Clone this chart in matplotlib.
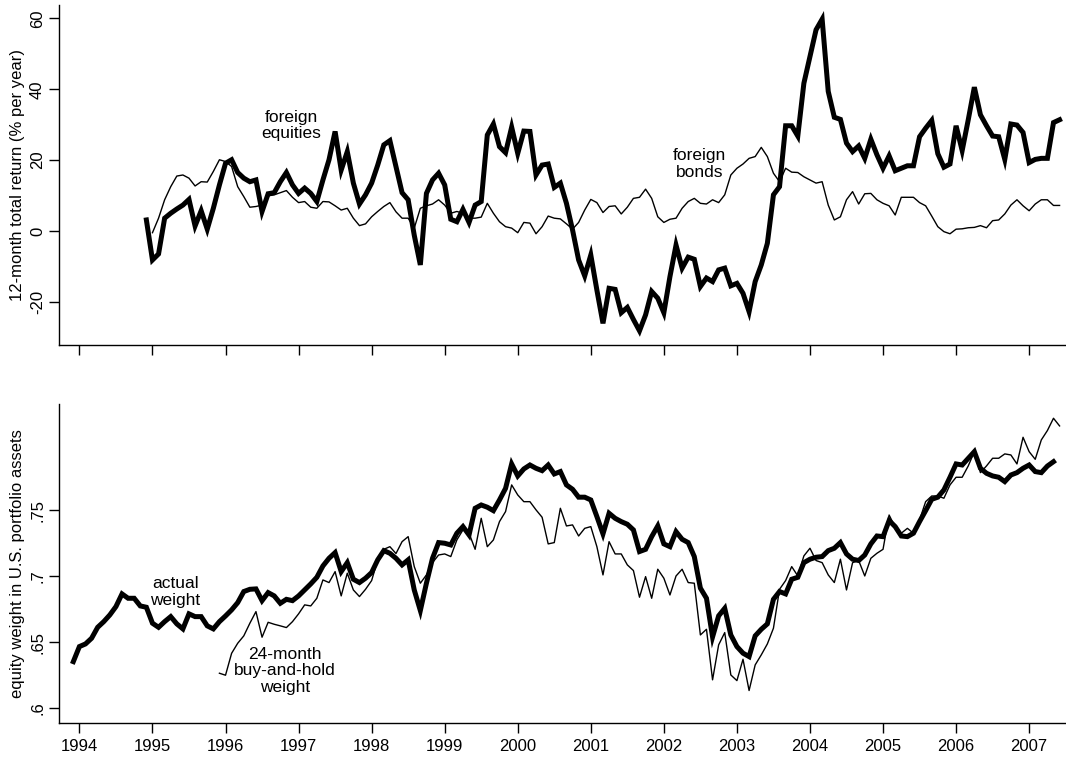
import numpy as np
import matplotlib
matplotlib.use("Agg")
import matplotlib.pyplot as plt

plt.rcParams['font.family'] = ['Liberation Sans', 'DejaVu Sans']

# monthly series; first value of each list is its start month
equity_start = (1994, 12)
equity_ret = [
    3.1,
    -8.2, -6.5, 3.6, 5.0, 6.2, 7.3, 8.9, 1.4, 5.7, 0.5, 6.4, 13.0,          # 1995
    19.1, 20.1, 16.5, 14.9, 13.9, 14.4, 5.5, 10.5, 10.8, 13.9, 16.5, 13.0,  # 1996
    10.6, 12.1, 10.6, 8.3, 14.4, 20.1, 28.1, 17.2, 22.4, 13.5, 7.6, 10.2,   # 1997
    13.5, 18.6, 24.3, 25.5, 18.2, 10.8, 8.8, -1.2, -9.6, 10.6, 14.4, 16.3,  # 1998
    13.0, 3.3, 2.6, 6.1, 2.4, 7.3, 8.3, 27.1, 30.2, 23.8, 22.1, 29.3,       # 1999
    21.9, 28.2, 28.1, 15.8, 18.6, 18.9, 12.3, 13.5, 7.8, 0.3, -8.2, -12.7,  # 2000
    -6.8, -16.7, -26.1, -16.2, -16.5, -23.1, -21.6, -25.0, -28.2, -23.7, -17.1, -19.0,  # 2001
    -23.1, -12.9, -4.0, -10.5, -7.4, -8.0, -15.7, -13.3, -14.3, -11.0, -10.5, -15.5,  # 2002
    -14.8, -17.6, -22.8, -14.3, -9.6, -3.5, 10.2, 12.5, 29.7, 29.7, 26.8, 41.7,  # 2003
    49.2, 56.8, 59.8, 39.4, 32.1, 31.5, 24.8, 22.4, 24.0, 20.5, 25.9, 21.5,  # 2004
    17.7, 21.2, 17.0, 17.7, 18.4, 18.4, 26.6, 29.0, 31.2, 21.8, 18.0, 18.9,  # 2005
    29.7, 22.7, 31.4, 40.6, 32.8, 29.7, 26.8, 26.6, 20.2, 30.2, 29.9, 27.8,  # 2006
    19.3, 20.2, 20.5, 20.5, 30.6, 31.4,                                      # 2007
]

bond_start = (1995, 1)
bond_ret = [
    -0.5, 3.6, 8.8, 12.5, 15.5, 15.8, 14.9, 12.7, 13.9, 13.8, 16.8, 20.1,   # 1995
    19.6, 18.2, 12.5, 9.7, 6.7, 6.9, 7.3, 9.9, 10.2, 10.8, 11.4, 9.5,       # 1996
    8.0, 8.3, 6.7, 6.4, 8.3, 8.2, 7.1, 5.9, 6.4, 3.6, 1.5, 2.0,             # 1997
    4.0, 5.5, 6.9, 8.0, 5.4, 3.6, 3.6, 0.8, 6.4, 7.1, 7.6, 8.8,             # 1998
    7.3, 5.0, 5.5, 5.0, 3.6, 3.6, 3.9, 7.8, 5.0, 2.6, 1.2, 0.8,             # 1999
    -0.5, 2.4, 2.2, -0.8, 1.2, 4.2, 3.6, 3.4, 2.0, 0.5, 2.4, 5.9,           # 2000
    8.9, 8.0, 5.2, 6.9, 7.1, 4.8, 6.7, 9.2, 9.5, 11.8, 9.2, 4.0,            # 2001
    2.4, 3.3, 3.6, 6.4, 8.3, 9.2, 7.8, 7.6, 8.8, 8.0, 10.2, 15.8,           # 2002
    17.7, 18.9, 20.5, 21.0, 23.6, 21.0, 16.3, 13.9, 17.7, 16.6, 16.5, 15.3,  # 2003
    14.4, 13.5, 13.9, 7.3, 3.1, 4.0, 8.8, 11.1, 7.6, 10.5, 10.6, 8.8,       # 2004
    7.8, 7.1, 4.5, 9.5, 9.5, 9.5, 8.0, 7.1, 4.2, 1.2, -0.2, -0.8,           # 2005
    0.5, 0.6, 0.9, 1.0, 1.5, 0.9, 2.9, 3.1, 4.8, 7.3, 8.8, 7.1,             # 2006
    5.7, 7.6, 8.8, 8.8, 7.2, 7.2,                                           # 2007
]

actual_start = (1993, 12)
actual_wt = [
    0.6353,
    0.6467, 0.6487, 0.6530, 0.6613, 0.6656, 0.6707, 0.6770, 0.6866, 0.6833, 0.6833, 0.6775, 0.6765,  # 1994
    0.6644, 0.6613, 0.6656, 0.6694, 0.6639, 0.6601, 0.6715, 0.6694, 0.6694, 0.6624, 0.6601, 0.6656,  # 1995
    0.6699, 0.6745, 0.6800, 0.6884, 0.6901, 0.6904, 0.6815, 0.6876, 0.6851, 0.6795, 0.6825, 0.6815,  # 1996
    0.6851, 0.6896, 0.6942, 0.6992, 0.7078, 0.7136, 0.7179, 0.7035, 0.7103, 0.6977, 0.6952, 0.6985,  # 1997
    0.7028, 0.7124, 0.7194, 0.7174, 0.7136, 0.7086, 0.7124, 0.6896, 0.6740, 0.6947, 0.7136, 0.7255,  # 1998
    0.7250, 0.7237, 0.7326, 0.7376, 0.7313, 0.7515, 0.7540, 0.7523, 0.7497, 0.7578, 0.7666, 0.7851,  # 1999
    0.7760, 0.7813, 0.7843, 0.7818, 0.7800, 0.7843, 0.7775, 0.7793, 0.7692, 0.7659, 0.7599, 0.7599,  # 2000
    0.7578, 0.7452, 0.7321, 0.7477, 0.7439, 0.7414, 0.7394, 0.7351, 0.7187, 0.7204, 0.7300, 0.7381,  # 2001
    0.7245, 0.7224, 0.7338, 0.7280, 0.7255, 0.7149, 0.6910, 0.6833, 0.6540, 0.6700, 0.6757, 0.6555,  # 2002
    0.6467, 0.6417, 0.6391, 0.6548, 0.6598, 0.6639, 0.6825, 0.6884, 0.6866, 0.6977, 0.6992, 0.7103,  # 2003
    0.7129, 0.7144, 0.7149, 0.7194, 0.7212, 0.7255, 0.7169, 0.7129, 0.7119, 0.7161, 0.7245, 0.7305,  # 2004
    0.7300, 0.7422, 0.7376, 0.7305, 0.7300, 0.7326, 0.7414, 0.7497, 0.7583, 0.7599, 0.7654, 0.7750,  # 2005
    0.7851, 0.7843, 0.7894, 0.7944, 0.7818, 0.7780, 0.7760, 0.7750, 0.7717, 0.7767, 0.7785, 0.7818,  # 2006
    0.7843, 0.7793, 0.7785, 0.7835, 0.7868,                                                          # 2007
]

bh_start = (1995, 12)
buyhold_wt = [
    0.6265,
    0.6250, 0.6416, 0.6492, 0.6548, 0.6644, 0.6732, 0.6538, 0.6651, 0.6636, 0.6624, 0.6611, 0.6656,  # 1996
    0.6715, 0.6783, 0.6775, 0.6833, 0.6972, 0.6952, 0.7035, 0.6851, 0.7023, 0.6896, 0.6846, 0.6901,  # 1997
    0.6967, 0.7124, 0.7204, 0.7224, 0.7172, 0.7262, 0.7300, 0.7073, 0.6947, 0.7010, 0.7103, 0.7161,  # 1998
    0.7169, 0.7149, 0.7275, 0.7351, 0.7326, 0.7204, 0.7439, 0.7224, 0.7275, 0.7414, 0.7490, 0.7692,  # 1999
    0.7616, 0.7565, 0.7565, 0.7503, 0.7447, 0.7245, 0.7255, 0.7515, 0.7381, 0.7389, 0.7305, 0.7363,  # 2000
    0.7376, 0.7224, 0.7010, 0.7262, 0.7169, 0.7169, 0.7086, 0.7043, 0.6841, 0.6997, 0.6833, 0.7053,  # 2001
    0.6985, 0.6858, 0.7002, 0.7053, 0.6952, 0.6947, 0.6555, 0.6598, 0.6215, 0.6480, 0.6573, 0.6252,  # 2002
    0.6209, 0.6371, 0.6134, 0.6328, 0.6404, 0.6487, 0.6606, 0.6901, 0.6967, 0.7073, 0.7002, 0.7154,  # 2003
    0.7212, 0.7119, 0.7103, 0.7010, 0.6952, 0.7129, 0.6896, 0.7103, 0.7119, 0.7002, 0.7136, 0.7174,  # 2004
    0.7204, 0.7464, 0.7371, 0.7326, 0.7363, 0.7326, 0.7427, 0.7565, 0.7608, 0.7608, 0.7591, 0.7692,  # 2005
    0.7750, 0.7750, 0.7836, 0.7944, 0.7785, 0.7836, 0.7894, 0.7894, 0.7927, 0.7919, 0.7851, 0.8053,  # 2006
    0.7944, 0.7886, 0.8033, 0.8104, 0.8197, 0.8139,                                                  # 2007
]

years = list(range(1994, 2008))
top_yticks = [-20, 0, 20, 40, 60]
bot_yticks = [0.6, 0.65, 0.7, 0.75]
bot_yticklabels = [".6", ".65", ".7", ".75"]


def monthly_x(start, n):
    y0, m0 = start
    return y0 + (m0 - 1) / 12 + np.arange(n) / 12


def style_axis(ax):
    for s in ("top", "right"):
        ax.spines[s].set_visible(False)
    for s in ("left", "bottom"):
        ax.spines[s].set_linewidth(1.0)
    ax.tick_params(direction="out", length=7, width=1.0, labelsize=12)
    ax.tick_params(axis="y", pad=3)
    ax.set_xlim(1993.72, 2007.49)
    ax.set_xticks(years)


fig = plt.figure(figsize=(10.66, 7.59), dpi=100)
ax1 = fig.add_axes([0.0553, 0.5455, 0.9437, 0.4479])
ax2 = fig.add_axes([0.0553, 0.0478, 0.9437, 0.4199])

# top panel: 12-month returns
ax1.plot(monthly_x(bond_start, len(bond_ret)), bond_ret, color="black", lw=1.0)
ax1.plot(monthly_x(equity_start, len(equity_ret)), equity_ret, color="black",
         lw=3.6, solid_joinstyle="miter")
style_axis(ax1)
ax1.set_ylim(-32.2, 63.8)
ax1.set_yticks(top_yticks)
ax1.set_yticklabels([str(v) for v in top_yticks], rotation=90, va="center")
ax1.set_xticklabels([])
ax1.set_ylabel("12-month total return (% per year)", fontsize=12, labelpad=4)
ax1.text(1996.9, 29.8, "foreign\nequities", ha="center", va="center",
         fontsize=12.5, linespacing=1.12)
ax1.text(2002.49, 18.9, "foreign\nbonds", ha="center", va="center",
         fontsize=12.5, linespacing=1.12)

# bottom panel: equity weights
ax2.plot(monthly_x(bh_start, len(buyhold_wt)), buyhold_wt, color="black", lw=1.0)
ax2.plot(monthly_x(actual_start, len(actual_wt)), actual_wt, color="black",
         lw=3.6, solid_joinstyle="miter")
style_axis(ax2)
ax2.set_ylim(0.589, 0.8305)
ax2.set_yticks(bot_yticks)
ax2.set_yticklabels(bot_yticklabels, rotation=90, va="center")
ax2.set_xticklabels([str(y) for y in years])
ax2.tick_params(axis="x", pad=5)
ax2.set_ylabel("equity weight in U.S. portfolio assets", fontsize=12, labelpad=4)
ax2.text(1995.31, 0.6881, "actual\nweight", ha="center", va="center",
         fontsize=12.5, linespacing=1.12)
ax2.text(1996.81, 0.6285, "24-month\nbuy-and-hold\nweight", ha="center",
         va="center", fontsize=12.5, linespacing=1.12)

fig.savefig("out.png", dpi=100)
